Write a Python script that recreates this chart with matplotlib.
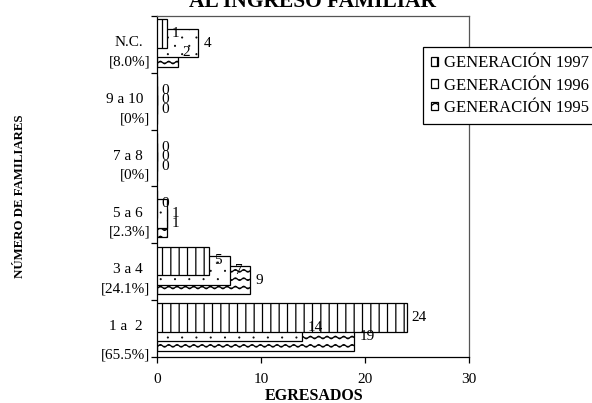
import warnings
warnings.filterwarnings("ignore")
import numpy as np
import matplotlib
matplotlib.use("Agg")
import matplotlib.pyplot as plt
import matplotlib.hatch as mhatch
from matplotlib.path import Path

# ---------------- data ----------------
categories = ["N.C.", "9 a 10", "7 a 8", "5 a 6", "3 a 4", "1 a  2"]
percents = ["[8.0%]", "[0%]", "[0%]", "[2.3%]", "[24.1%]", "[65.5%]"]
gen1997 = [1, 0, 0, 0, 5, 24]
gen1996 = [4, 0, 0, 1, 7, 14]
gen1995 = [2, 0, 0, 1, 9, 19]
series_names = ["GENERACIÓN 1997", "GENERACIÓN 1996", "GENERACIÓN 1995"]
x_ticks = [0, 10, 20, 30]
title_text = "AL INGRESO FAMILIAR"
x_label = "EGRESADOS"
y_label = "NÚMERO DE FAMILIARES"


# ---------------- custom hatches ----------------
class WaveHatch(mhatch.HatchPatternBase):
    def __init__(self, hatch, density):
        self.num_rows = int(hatch.count('~') * density)
        self.pts = self.num_rows * 8 + 1 if self.num_rows else 0
        self.num_vertices = self.num_rows * self.pts

    def set_vertices_and_codes(self, vertices, codes):
        if self.num_rows == 0:
            return
        n = self.num_rows
        xs = np.linspace(0.0, 1.0, self.pts)
        amp = 0.15 / n
        for i in range(n):
            y0 = (i + 0.5) / n
            s = slice(i * self.pts, (i + 1) * self.pts)
            vertices[s, 0] = xs
            vertices[s, 1] = y0 + amp * np.sin(2 * np.pi * n * xs)
            codes[s] = Path.LINETO
            codes[i * self.pts] = Path.MOVETO


class DotHatch(mhatch.HatchPatternBase):
    filled = True

    def __init__(self, hatch, density):
        k = hatch.count(':')
        self.rows = 12 if k else 0
        self.cols = 7
        circ = Path.unit_circle()
        self.cv = circ.vertices
        self.cc = circ.codes
        self.num_vertices = self.rows * self.cols * len(self.cv)

    def set_vertices_and_codes(self, vertices, codes):
        if self.rows == 0:
            return
        r = 0.004
        m = len(self.cv)
        idx = 0
        for i in range(self.rows):
            y = (i + 0.5) / self.rows
            for j in range(self.cols):
                x = (j + 0.25 + 0.5 * (i % 2)) / self.cols
                vertices[idx:idx + m] = self.cv * r + [x, y]
                codes[idx:idx + m] = self.cc
                idx += m


mhatch._hatch_types.append(WaveHatch)
mhatch._hatch_types.append(DotHatch)

plt.rcParams['font.family'] = ['Liberation Serif', 'DejaVu Serif']
plt.rcParams['hatch.linewidth'] = 0.9
plt.rcParams['hatch.color'] = 'black'

W, H = 592, 403
fig = plt.figure(figsize=(W / 100, H / 100), dpi=100)
ax = fig.add_axes([156.7 / W, 1 - 356.7 / H, (469 - 156.7) / W, (356.7 - 15.9) / H])

n = len(categories)
pos = np.arange(n)[::-1].astype(float)
bar_h = 0.5
series = [gen1997, gen1996, gen1995]
offsets = [0.19, 0.02, -0.15]
hatches = ['||', ':', '~~']
zorders = [4, 3, 2]

containers = []
for vals, off, hat, z, name in zip(series, offsets, hatches, zorders, series_names):
    c = ax.barh(pos + off, vals, height=bar_h, color='white', edgecolor='black',
                linewidth=0.9, hatch=hat, zorder=z, label=name)
    containers.append(c)
    labs = ax.bar_label(c, padding=3.6, fontsize=11)
    for t in labs:
        t.set_zorder(10)

ax.set_xlim(0, 30)
ax.set_ylim(-0.5, n - 0.5)
ax.set_xticks(x_ticks)
ax.set_xticklabels([str(v) for v in x_ticks], fontsize=11)
ax.set_yticks(np.arange(-0.5, n, 1.0))
ax.set_yticklabels([])
ax.tick_params(axis='x', direction='out', length=4, width=0.9, pad=8)
ax.tick_params(axis='y', direction='out', length=4.5, width=0.9)

for s in ['left', 'bottom']:
    ax.spines[s].set_linewidth(0.9)
    ax.spines[s].set_color('black')
for s in ['top', 'right']:
    ax.spines[s].set_linewidth(0.9)
    ax.spines[s].set_color('#555555')

pct_drop = [12.6, 12.6, 12.6, 12.6, 12.6, 19.4]
for p, cat, pct, drop in zip(pos, categories, percents, pct_drop):
    ax.annotate(cat, xy=(0, p), xytext=(-9.9, 1.1), textcoords='offset points',
                ha='right', va='center', fontsize=11, annotation_clip=False)
    ax.annotate(pct, xy=(0, p), xytext=(-4.8, -drop), textcoords='offset points',
                ha='right', va='center', fontsize=11, annotation_clip=False)

fig.text(312.9 / W, 1 - 7 / H, title_text, ha='center', va='baseline',
         fontsize=15.5, fontweight='bold')
fig.text(314 / W, 1 - 400 / H, x_label, ha='center', va='baseline',
         fontsize=11.5, fontweight='bold')
fig.text(20 / W, 1 - 196.5 / H, y_label, ha='center', va='center', rotation=90,
         fontsize=9.3, fontweight='bold')

leg = ax.legend(handles=containers, labels=series_names,
                loc='upper left', bbox_to_anchor=(423 / W, 1 - 47 / H),
                bbox_transform=fig.transFigure, fontsize=12,
                handlelength=0.42, handleheight=0.42, handletextpad=0.35,
                labelspacing=0.38, borderpad=0.5, borderaxespad=0,
                fancybox=False, framealpha=1, edgecolor='black')
leg.get_frame().set_linewidth(0.9)

fig.savefig("out.png", dpi=100)
